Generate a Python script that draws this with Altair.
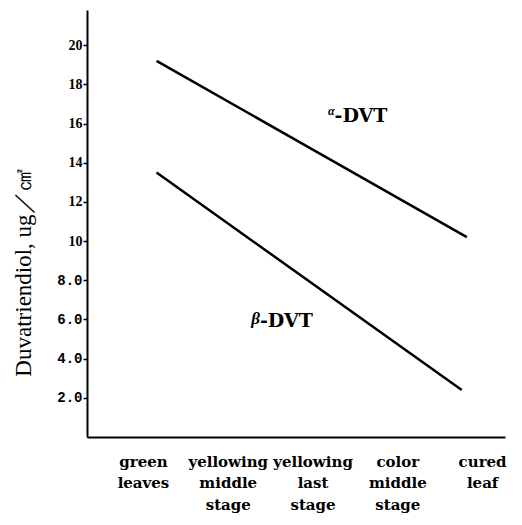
import altair as alt
import pandas as pd
import json

# ---- data ----
stages = ["green leaves", "yellowing middle stage", "yellowing last stage",
          "color middle stage", "cured leaf"]
stage_label_lines = [["green", "leaves"], ["yellowing", "middle", "stage"],
                     ["yellowing", "last", "stage"], ["color", "middle", "stage"],
                     ["cured", "leaf"]]
series = ["α-DVT", "β-DVT"]
alpha_stage = [0.16, 3.82]
alpha_vals = [19.2, 10.2]
beta_stage = [0.16, 3.76]
beta_vals = [13.5, 2.4]
greek = ["α", "β"]
greek_size = [12, 17]
greek_dy = [-5, -2]
label_text = ["-DVT", "-DVT"]
label_stage = [2.26, 1.38]
label_vals = [16.4, 5.9]
y_ticks = [2, 4, 6, 8, 10, 12, 14, 16, 18, 20]

lines = pd.DataFrame({
    "series": [series[0]] * 2 + [series[1]] * 2,
    "stage": alpha_stage + beta_stage,
    "value": alpha_vals + beta_vals,
})
labels = pd.DataFrame({"greek": greek, "text": label_text,
                       "stage": label_stage, "value": label_vals})

serif = "DejaVu Serif"
label_expr = "split(" + json.dumps(["|".join(l) for l in stage_label_lines]) + \
    "[round(datum.value)], '|')"

x_scale = alt.Scale(domain=[-0.66, 4.27], nice=False, zero=False)
y_scale = alt.Scale(domain=[0, 21.8], nice=False, zero=True)

x_axis = alt.Axis(values=[0, 1, 2, 3, 4], labelExpr=label_expr, title=None,
                  ticks=False, grid=False, domainColor="black", domainWidth=2,
                  labelFont=serif, labelFontSize=15, labelFontWeight="bold",
                  labelColor="black", labelPadding=17, labelLineHeight=21.5,
                  labelAlign="center", labelBaseline="top",
                  labelOverlap=False, labelBound=False, labelFlush=False)
y_axis = alt.Axis(values=y_ticks,
                  labelExpr="datum.value < 10 ? format(datum.value, '.1f') : format(datum.value, 'd')",
                  title="Duvatriendiol, ug／㎠", titleFont="Liberation Serif",
                  titleFontSize=23, titleFontWeight="normal", titleColor="black",
                  titleAngle=270, titleX=-64, titleY=262, titleAlign="center",
                  titleBaseline="middle",
                  grid=False, domainColor="black", domainWidth=2,
                  tickColor="black", tickSize=4, tickWidth=1.5,
                  labelFont={"condition": {"test": "datum.value < 10", "value": "Liberation Mono"},
                             "value": "Liberation Serif"},
                  labelFontSize=14, labelFontWeight="bold",
                  labelColor="black", labelPadding=1, labelOverlap=False)

line_chart = alt.Chart(lines).mark_line(color="black", strokeWidth=2.5).encode(
    x=alt.X("stage:Q", scale=x_scale, axis=x_axis),
    y=alt.Y("value:Q", scale=y_scale, axis=y_axis),
    detail="series:N",
)

greek_a = alt.Chart(labels.iloc[[0]]).mark_text(
    font="Liberation Serif", fontSize=greek_size[0], fontStyle="italic",
    fontWeight="bold", align="right", dy=greek_dy[0], color="black"
).encode(x=alt.X("stage:Q", scale=x_scale), y=alt.Y("value:Q", scale=y_scale),
         text="greek:N")

greek_b = alt.Chart(labels.iloc[[1]]).mark_text(
    font="Liberation Serif", fontSize=greek_size[1], fontStyle="italic",
    fontWeight="bold", align="right", dy=greek_dy[1], color="black"
).encode(x=alt.X("stage:Q", scale=x_scale), y=alt.Y("value:Q", scale=y_scale),
         text="greek:N")

dvt_text = alt.Chart(labels).mark_text(
    font=serif, fontSize=19, fontWeight="bold", align="left", color="black"
).encode(x=alt.X("stage:Q", scale=x_scale), y=alt.Y("value:Q", scale=y_scale),
         text="text:N")

chart = alt.layer(line_chart, greek_a, greek_b, dvt_text).properties(
    width=418, height=427,
    autosize=alt.AutoSizeParams(type="none"),
    padding={"left": 87, "top": 10, "right": 17, "bottom": 88},
    background="white",
).configure_view(stroke=None)

chart.save("out.html", embed_options={"renderer": "svg", "actions": False})
